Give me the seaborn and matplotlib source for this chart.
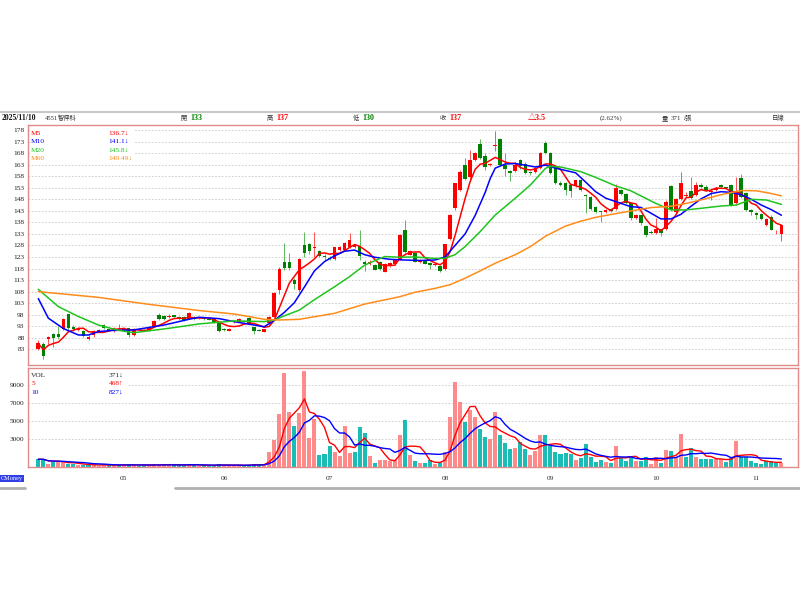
import matplotlib
matplotlib.use('Agg')
import matplotlib.pyplot as plt
from matplotlib.patches import Rectangle
from matplotlib.lines import Line2D
import numpy as np
import pandas as pd
import seaborn as sns

# Trading days (TWSE 2025, market holidays removed)
holidays = ['2025-05-01', '2025-05-30', '2025-09-29', '2025-10-06', '2025-10-10', '2025-10-24']
dates = pd.bdate_range('2025-04-08', '2025-11-10', freq='C', holidays=holidays)

opens = [
    83.2, 85.5, 87.5, 89.5, 89.5, 92.0, 98.3, 92.8, 91.5, 91.0,
    87.5, 89.0, 91.0, 93.5, 91.8, 90.9, 91.6, 91.2, 92.2, 89.0,
    91.6, 91.3, 91.0, 93.0, 98.0, 97.6, 97.0, 97.8, 97.0, 97.0,
    96.2, 97.0, 96.4, 97.0, 96.0, 96.0, 94.6, 92.0, 91.0, 94.8,
    95.0, 95.3, 96.5, 92.5, 91.5, 90.7, 94.2, 97.1, 108.7, 121.0,
    121.0, 113.0, 108.7, 128.2, 128.5, 127.0, 125.8, 123.5, 122.5, 122.2,
    126.0, 126.0, 127.5, 127.5, 127.8, 121.0, 119.8, 119.5, 121.0, 116.7,
    119.0, 120.0, 121.7, 134.7, 124.0, 124.9, 121.0, 121.5, 120.5, 119.5,
    119.2, 118.0, 131.0, 144.4, 152.0, 162.8, 157.8, 165.0, 171.8, 166.9,
    162.8, 171.3, 174.1, 162.8, 160.2, 160.4, 165.0, 163.5, 160.0, 160.0,
    161.4, 172.5, 168.0, 162.1, 155.2, 155.0, 154.2, 153.7, 156.3, 149.8,
    149.1, 144.5, 142.8, 142.5, 144.0, 144.0, 152.0, 150.3, 146.2, 139.7,
    141.0, 136.4, 134.0, 133.5, 135.0, 135.0, 153.7, 142.6, 148.0, 149.5,
    151.7, 149.9, 154.2, 153.5, 151.0, 152.0, 154.2, 153.2, 154.2, 146.2,
    157.4, 150.6, 143.3, 142.0, 141.5, 136.9, 140.5, 133.2, 133.0]
highs = [
    87.0, 86.0, 88.7, 90.0, 93.0, 96.5, 98.5, 93.5, 92.5, 91.5,
    89.0, 91.5, 91.6, 94.0, 92.0, 92.5, 93.8, 92.6, 92.4, 92.3,
    91.8, 91.7, 93.0, 95.5, 98.6, 98.0, 98.5, 98.0, 97.4, 97.3,
    99.0, 97.5, 96.8, 97.2, 96.3, 96.2, 94.9, 92.2, 92.3, 95.3,
    96.5, 95.6, 97.0, 92.8, 91.7, 91.8, 97.3, 107.7, 118.5, 128.9,
    124.6, 114.0, 122.5, 134.0, 129.0, 134.0, 126.0, 124.5, 123.5, 127.5,
    127.8, 129.5, 133.3, 128.5, 134.8, 121.5, 121.5, 120.0, 121.2, 120.5,
    121.0, 122.0, 133.0, 139.0, 126.0, 125.3, 122.0, 121.8, 121.0, 120.3,
    119.6, 128.8, 141.5, 155.2, 160.5, 166.0, 169.3, 168.5, 174.1, 168.0,
    163.8, 177.8, 174.5, 168.0, 160.8, 164.0, 165.5, 164.0, 160.3, 162.0,
    168.5, 173.2, 168.3, 162.5, 155.8, 155.5, 154.6, 156.5, 156.8, 150.2,
    149.5, 145.0, 143.0, 143.8, 144.3, 154.8, 152.5, 150.8, 147.0, 141.5,
    141.3, 136.8, 134.5, 140.0, 135.3, 147.5, 154.0, 148.5, 160.0, 151.0,
    157.5, 155.5, 155.2, 154.0, 153.0, 153.5, 154.5, 153.5, 154.6, 157.5,
    159.0, 151.0, 143.8, 142.5, 142.0, 139.8, 141.0, 134.5, 137.0]
lows = [
    82.8, 79.0, 85.5, 84.0, 87.5, 91.5, 91.5, 91.0, 91.0, 88.3,
    87.0, 88.5, 90.8, 92.0, 91.2, 90.6, 91.4, 91.0, 88.3, 88.8,
    91.0, 90.8, 90.8, 92.8, 95.6, 95.8, 96.6, 96.8, 95.8, 95.3,
    96.0, 95.8, 96.0, 95.8, 95.6, 94.5, 90.6, 91.0, 90.8, 94.5,
    94.8, 94.8, 93.8, 89.5, 90.8, 90.5, 93.8, 97.0, 107.0, 117.4,
    117.5, 109.0, 108.0, 123.2, 124.5, 123.0, 123.0, 121.5, 121.5, 121.8,
    125.5, 125.8, 127.0, 127.0, 121.5, 117.0, 119.5, 117.3, 117.2, 116.5,
    118.8, 119.5, 121.5, 124.8, 123.8, 120.8, 120.5, 119.8, 118.0, 119.0,
    116.5, 117.5, 130.5, 143.5, 151.5, 156.5, 157.0, 164.5, 165.5, 160.5,
    162.3, 169.0, 162.5, 158.0, 156.0, 159.8, 161.0, 158.8, 158.5, 159.5,
    161.0, 167.8, 158.8, 154.8, 153.8, 150.0, 148.8, 153.2, 151.5, 142.0,
    143.5, 142.0, 138.0, 142.0, 142.5, 143.5, 149.8, 146.0, 139.0, 139.5,
    137.0, 131.5, 133.0, 133.0, 132.0, 134.5, 143.0, 142.0, 147.5, 149.0,
    148.0, 149.5, 153.0, 151.5, 147.5, 151.5, 153.0, 152.5, 145.0, 145.8,
    148.5, 143.0, 141.0, 139.5, 139.2, 136.5, 134.5, 133.0, 130.0]
closes = [
    85.6, 80.0, 88.5, 88.0, 88.5, 96.0, 92.1, 91.7, 92.0, 88.8,
    88.5, 91.0, 91.3, 92.1, 91.5, 92.2, 92.0, 92.3, 89.1, 92.0,
    91.4, 91.2, 92.8, 95.3, 96.0, 96.2, 97.1, 97.0, 96.0, 95.6,
    98.7, 96.0, 96.5, 96.0, 95.8, 94.8, 91.0, 91.5, 92.0, 95.0,
    96.0, 95.0, 94.0, 91.0, 91.0, 91.6, 97.1, 107.3, 117.7, 118.1,
    118.3, 111.5, 122.0, 124.6, 125.8, 127.0, 123.5, 122.9, 122.0, 127.2,
    127.3, 129.0, 130.4, 128.0, 123.4, 120.0, 121.0, 117.4, 117.8, 120.0,
    120.5, 121.5, 132.5, 125.3, 125.5, 121.0, 121.7, 120.0, 119.5, 120.0,
    117.0, 128.5, 141.2, 154.9, 160.0, 157.0, 165.0, 168.0, 166.0, 162.1,
    163.2, 171.6, 162.8, 161.0, 159.5, 163.0, 162.5, 159.2, 159.4, 161.7,
    168.2, 168.0, 159.2, 155.2, 154.3, 152.1, 151.6, 156.3, 152.0, 149.6,
    144.0, 142.6, 142.6, 143.4, 143.0, 152.7, 150.3, 146.5, 139.7, 141.0,
    137.6, 132.5, 133.5, 135.0, 133.2, 147.0, 143.3, 148.0, 155.0, 150.0,
    148.4, 154.2, 153.5, 152.0, 151.8, 153.0, 153.5, 153.0, 145.1, 151.7,
    148.8, 143.3, 142.6, 141.0, 139.5, 139.3, 134.7, 133.5, 137.0]
volumes = [
    800, 790, 300, 520, 540, 480, 300, 250, 150, 220,
    180, 200, 100, 250, 120, 150, 130, 200, 250, 170,
    100, 120, 150, 300, 200, 220, 120, 180, 200, 150,
    280, 120, 100, 130, 110, 160, 260, 120, 140, 130,
    160, 90, 200, 330, 150, 250, 1640, 2930, 5800, 10300,
    6060, 4480, 5870, 10600, 3110, 5210, 1270, 1380, 2270, 1640,
    1200, 4480, 1460, 1640, 4400, 3740, 1160, 420, 720, 720,
    650, 700, 3480, 5140, 1270, 600, 400, 350, 700, 300,
    500, 1640, 5430, 9370, 7160, 4950, 6200, 5520, 4110, 3290,
    3000, 5980, 3480, 2630, 1900, 2000, 2740, 1900, 1270, 1750,
    3480, 3480, 2270, 1640, 1380, 1530, 1380, 720, 900, 2490,
    1090, 530, 720, 530, 420, 2270, 900, 650, 1160, 650,
    650, 1000, 280, 1090, 420, 1820, 1750, 1090, 3590, 1090,
    2010, 1000, 830, 830, 830, 830, 830, 530, 900, 2820,
    1090, 1090, 650, 350, 280, 600, 650, 420, 371]

# moving averages (they need history before the window)
ma10_idx = [0, 2, 5, 8, 10, 12, 15, 19, 25, 30, 32, 36, 39, 43, 45, 47, 49, 51, 53, 55,
            57, 59, 61, 63, 65, 67, 70, 73, 76, 79, 81, 83, 85, 87, 88, 89, 90, 91, 93, 95,
            97, 99, 101, 103, 105, 107, 109, 111, 113, 115, 118, 120, 122, 124, 126, 128,
            130, 132, 134, 136, 138, 140, 142, 144, 146, 148]
ma10_val = [105.0, 96.5, 92.0, 89.2, 89.2, 90.7, 91.2, 91.4, 93.5, 96.0, 96.9, 96.3, 95.0, 93.5,
            92.8, 95.5, 99.0, 103.2, 110.0, 117.0, 121.0, 123.5, 125.5, 126.0, 124.0, 122.9,
            122.0, 121.7, 121.5, 121.7, 123.0, 128.0, 133.0, 141.0, 146.0, 151.0, 157.0, 161.5,
            163.3, 163.5, 162.8, 162.0, 162.8, 161.5, 160.5, 159.5, 155.5, 151.3, 148.5, 147.0,
            144.8, 144.5, 142.0, 139.5, 139.5, 141.5, 145.0, 148.2, 150.5, 151.3, 151.0, 150.0,
            148.0, 145.5, 143.5, 141.1]
ma20_idx = [0, 4, 8, 12, 16, 19, 22, 26, 32, 39, 45, 47, 49, 52, 55, 59, 62, 65, 69, 72,
            75, 79, 81, 83, 85, 88, 91, 95, 98, 101, 102, 104, 108, 111, 115, 118, 120, 123,
            126, 129, 132, 136, 139, 142, 145, 148]
ma20_val = [109.0, 101.5, 97.2, 93.5, 91.2, 90.2, 91.0, 92.1, 94.0, 95.3, 95.0, 95.7, 97.5,
            100.0, 104.5, 110.1, 114.5, 119.5, 123.2, 122.9, 123.0, 122.4, 122.4, 124.0, 127.5,
            134.0, 141.2, 148.5, 154.2, 161.4, 162.3, 162.0, 160.0, 157.5, 153.8, 151.7, 149.5,
            146.2, 143.4, 143.4, 144.1, 145.1, 145.5, 148.0, 147.7, 145.8]
ma60_idx = [0, 12, 22, 32, 39, 45, 48, 52, 59, 65, 72, 75, 79, 82, 85, 88, 91, 95, 98, 101,
            105, 108, 111, 116, 119, 122, 126, 129, 133, 136, 140, 143, 146, 148]
ma60_val = [108.0, 105.5, 102.5, 99.8, 98.3, 96.0, 95.7, 96.0, 98.6, 102.6, 105.8, 107.7, 109.4,
            111.0, 113.8, 117.0, 120.3, 124.0, 127.5, 132.0, 136.4, 138.5, 140.2, 142.2, 143.3,
            144.4, 145.0, 146.2, 148.3, 150.0, 151.8, 151.7, 150.5, 149.5]

ma_names = ['M5', 'M10', 'M20', 'M60']
ma_last = ['136.7', '141.1', '145.8', '149.49']
ma_arrow = ['↓', '↓', '↓', '↓']
vol_names = ['VOL', '5', '10']
vol_last = ['371', '468', '827']
vol_arrow = ['↓', '↑', '↓']

RED = '#ff0000'
GREEN = '#008000'
BLUE = '#0000ff'
LGREEN = '#1fc41f'
ORANGE = '#ff8c1a'
PINK = '#ff8a8a'
TEAL = '#1bbcb6'
BORDER = '#e08a8a'
GRID = '#c8c8c8'

sns.set_style('white')
plt.rcParams['font.family'] = ['Liberation Serif', 'Noto Sans CJK TC', 'DejaVu Sans']

df = pd.DataFrame({'date': dates, 'open': opens, 'high': highs, 'low': lows,
                   'close': closes, 'vol': volumes})
df['x'] = np.arange(len(df))
df['ma5'] = df['close'].rolling(5, min_periods=1).mean()
df['v5'] = df['vol'].rolling(5, min_periods=1).mean()
df['v10'] = df['vol'].rolling(10, min_periods=1).mean()
up = df['close'] >= df['open']
vol_up = df['close'].diff().fillna(-1) > 0

month_pos = df.groupby(df['date'].dt.to_period('M'))['x'].min().values[1:]
month_lab = [dates[p].strftime('%m') for p in month_pos]

fig = plt.figure(figsize=(8, 6), dpi=100)
ax = fig.add_axes([28 / 800, 1 - 365 / 600, 770 / 800, 240 / 600])
axv = fig.add_axes([28 / 800, 1 - 467 / 600, 770 / 800, 99 / 600])

# ---- price panel
pticks = np.arange(83, 179, 5)
for t in pticks:
    ax.axhline(t, color=GRID, lw=0.6, ls=(0, (2, 2)), zorder=0.5)
ax.add_patch(Rectangle((0.002, 0.835), 0.137, 0.16, transform=ax.transAxes,
                       facecolor='white', edgecolor='none', zorder=1))

ax.vlines(df['x'], df['low'], df['high'], colors=np.where(up, '#ff5050', '#5cb85c'),
          lw=0.7, zorder=2)
body = (df['close'] - df['open']).abs().clip(lower=0.3)
ax.bar(df['x'], body, bottom=df[['open', 'close']].min(axis=1), width=0.72,
       color=np.where(up, RED, GREEN), zorder=3, linewidth=0)

sns.lineplot(x=df['x'], y=df['ma5'], ax=ax, color=RED, lw=1.1, zorder=4)
sns.lineplot(x=ma10_idx, y=ma10_val, ax=ax, color=BLUE, lw=1.1, zorder=4)
sns.lineplot(x=ma20_idx, y=ma20_val, ax=ax, color=LGREEN, lw=1.1, zorder=4)
sns.lineplot(x=ma60_idx, y=ma60_val, ax=ax, color=ORANGE, lw=1.1, zorder=4)

ax.set_xlim(-2.05, 151.3)
ax.set_ylim(76.2, 180.2)
ax.set_yticks(pticks)
ax.set_xticks(month_pos)
ax.set_xticklabels([])
ax.tick_params(axis='y', length=0, pad=2.5, labelsize=5.3, labelcolor='#222222')
ax.tick_params(axis='x', direction='in', length=3, color=BORDER, width=0.8)
ax.set_xlabel('')
ax.set_ylabel('')
for s in ax.spines.values():
    s.set_color(BORDER)
    s.set_linewidth(1.0)

ma_cols = [RED, BLUE, LGREEN, ORANGE]
for k, (nm, val, arr, c) in enumerate(zip(ma_names, ma_last, ma_arrow, ma_cols)):
    yy = 0.965 - k * 0.0347
    ax.text(0.004, yy, nm, transform=ax.transAxes, color=c, fontsize=5.3, va='center', zorder=5)
    ax.text(0.105, yy, val + arr, transform=ax.transAxes, color=c, fontsize=5.3,
            va='center', zorder=5)

# ---- volume panel
vticks = [3000, 5000, 7000, 9000]
for t in vticks:
    axv.axhline(t, color=GRID, lw=0.6, ls=(0, (2, 2)), zorder=0.5)
axv.add_patch(Rectangle((0.002, 0.70), 0.127, 0.29, transform=axv.transAxes,
                        facecolor='white', edgecolor='none', zorder=1))
axv.bar(df['x'], df['vol'], width=0.8, color=np.where(vol_up, PINK, TEAL), zorder=2, linewidth=0)
sns.lineplot(x=df['x'], y=df['v5'], ax=axv, color=RED, lw=1.0, zorder=3)
sns.lineplot(x=df['x'], y=df['v10'], ax=axv, color=BLUE, lw=1.0, zorder=3)

axv.set_xlim(-2.05, 151.3)
axv.set_ylim(-55, 10884)
axv.set_yticks(vticks)
axv.set_yticklabels([str(v) for v in vticks])
axv.set_xticks(month_pos)
axv.set_xticklabels(month_lab)
axv.set_xticks(df['x'], minor=True)
axv.tick_params(axis='y', length=0, pad=2.5, labelsize=5.3, labelcolor='#222222')
axv.tick_params(axis='x', which='both', direction='out', length=2.5, color=BORDER,
                width=0.6, labelsize=5.3, pad=4, labelcolor='#333333')
axv.set_xlabel('')
axv.set_ylabel('')
for s in axv.spines.values():
    s.set_color(BORDER)
    s.set_linewidth(1.0)

vol_cols = ['#222222', RED, BLUE]
for k, (nm, val, arr, c) in enumerate(zip(vol_names, vol_last, vol_arrow, vol_cols)):
    yy = 0.925 - k * 0.085
    axv.text(0.004, yy, nm, transform=axv.transAxes, color=c, fontsize=5.3, va='center', zorder=5)
    axv.text(0.105, yy, val + arr, transform=axv.transAxes, color=c, fontsize=5.3,
             va='center', zorder=5)

# ---- header row
fig.add_artist(Line2D([0, 1], [1 - 111.5 / 600] * 2, color='#c8c8c8', lw=1.5))
hy = 1 - 118 / 600
# (x px, text, colour, weight, size)
header = [(2, '2025/11/10', '#111111', 'bold', 5.5), (45, '4551', '#333333', 'normal', 4.8),
          (58, '智伸科', '#333333', 'normal', 4.5),
          (180, '開', '#333333', 'normal', 4.5), (190, '133', GREEN, 'bold', 5.8),
          (267, '高', '#333333', 'normal', 4.5), (276, '137', RED, 'bold', 5.8),
          (353, '低', '#333333', 'normal', 4.5), (362, '130', GREEN, 'bold', 5.8),
          (440, '收', '#333333', 'normal', 4.5), (449, '137', RED, 'bold', 5.8),
          (528, '△3.5', RED, 'bold', 5.8), (600, '(2.62%)', '#333333', 'normal', 5.0),
          (662, '量', '#333333', 'normal', 4.5), (671, '371', '#333333', 'normal', 5.0),
          (682, '↓張', '#333333', 'normal', 4.5),
          (772, '日線', '#333333', 'normal', 4.6)]
for px, txt, c, w, fs in header:
    fig.text(px / 800, hy, txt, color=c, fontsize=fs, fontweight=w, va='center')

fig.text(0.001, 1 - 478.5 / 600, 'CMoney', color='white', fontsize=4.5, va='center',
         bbox=dict(facecolor='#2f3fe8', edgecolor='none', pad=0.6))
fig.add_artist(Line2D([0, 25 / 800], [1 - 488 / 600] * 2, color='#b0b0b0', lw=2))
fig.add_artist(Line2D([175 / 800, 1], [1 - 488 / 600] * 2, color='#b0b0b0', lw=2))

fig.savefig('out.png', dpi=100)
